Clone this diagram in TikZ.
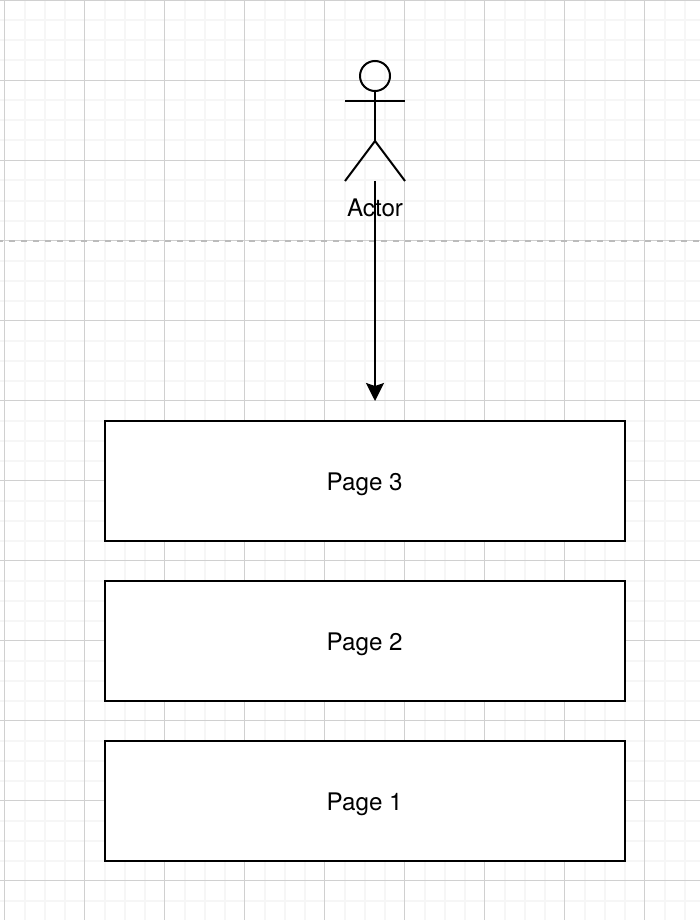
\documentclass[tikz,border=0pt]{standalone}
\usepackage{fontspec}
\setmainfont{TeX Gyre Heros}
\usetikzlibrary{arrows.meta}
\definecolor{gridmajor}{HTML}{D0D0D0}
\definecolor{gridminor}{HTML}{F6F6F6}
\definecolor{pagedash}{HTML}{BBBBBB}
\newcommand{\pagelabel}[1]{\raisebox{-3pt}[\height][\depth]{\hspace{-0.6pt}#1}}
\tikzset{
  x=1pt,y=-1pt,
  minorgrid/.style={draw=gridminor,line width=2pt},
  majorgrid/.style={draw=gridmajor,line width=1.2pt},
  pagebreakline/.style={draw=pagedash,line width=2pt,dash pattern=on 6pt off 6pt,dash phase=3pt},
  ink/.style={draw=black,line width=2pt},
  pagebox/.style={ink,fill=white,minimum width=520pt,minimum height=120pt,inner sep=0pt,anchor=center,font=\fontsize{24.2}{28}\selectfont},
  actorhead/.style={ink,circle,minimum size=30pt,inner sep=0pt},
  actorlabel/.style={inner sep=0pt,font=\fontsize{24.2}{28}\selectfont},
  flow/.style={ink,-{Stealth[length=18pt,width=18pt,inset=3pt]}},
}
\begin{document}
\begin{tikzpicture}
\useasboundingbox (0,0) rectangle (700,920);
\fill[white] (0,0) rectangle (700,920);
% minor grid
\foreach \gx in {24.5,44.5,64.5,104.5,124.5,144.5,184.5,204.5,224.5,264.5,284.5,304.5,344.5,364.5,384.5,424.5,444.5,464.5,504.5,524.5,544.5,584.5,604.5,624.5,664.5,684.5}
  \draw[minorgrid] (\gx,0) -- (\gx,920);
\foreach \gy in {20.5,40.5,60.5,100.5,120.5,140.5,180.5,200.5,220.5,260.5,280.5,300.5,340.5,360.5,380.5,420.5,440.5,460.5,500.5,520.5,540.5,580.5,600.5,620.5,660.5,680.5,700.5,740.5,760.5,780.5,820.5,840.5,860.5,900.5}
  \draw[minorgrid] (0,\gy) -- (700,\gy);
% major grid
\foreach \gx in {4.5,84.5,164.5,244.5,324.5,404.5,484.5,564.5,644.5}
  \draw[majorgrid] (\gx,0) -- (\gx,920);
\foreach \gy in {0.5,80.5,160.5,240.5,320.5,400.5,480.5,560.5,640.5,720.5,800.5,880.5}
  \draw[majorgrid] (0,\gy) -- (700,\gy);
% page break line
\draw[pagebreakline] (0,241) -- (700,241);
% pages
\node[pagebox] (page3) at (365,481) {\pagelabel{Page 3}};
\node[pagebox] (page2) at (365,641) {\pagelabel{Page 2}};
\node[pagebox] (page1) at (365,801) {\pagelabel{Page 1}};
% actor
\node[actorhead] (head) at (375,76) {};
\coordinate (armL) at (345,101);
\coordinate (armR) at (405,101);
\coordinate (hip) at (375,141);
\coordinate (footL) at (345,181);
\coordinate (footR) at (405,181);
\draw[ink] (head.south) -- (hip);
\draw[ink] (armL) -- (armR);
\draw[ink] (footL) -- (hip) -- (footR);
\node[actorlabel] (actorname) at (375,208) {Actor};
% connector
\coordinate (flowstart) at (375,181);
\coordinate (flowend) at (375,401);
\draw[flow] (flowstart) -- (flowend);
\end{tikzpicture}
\end{document}
